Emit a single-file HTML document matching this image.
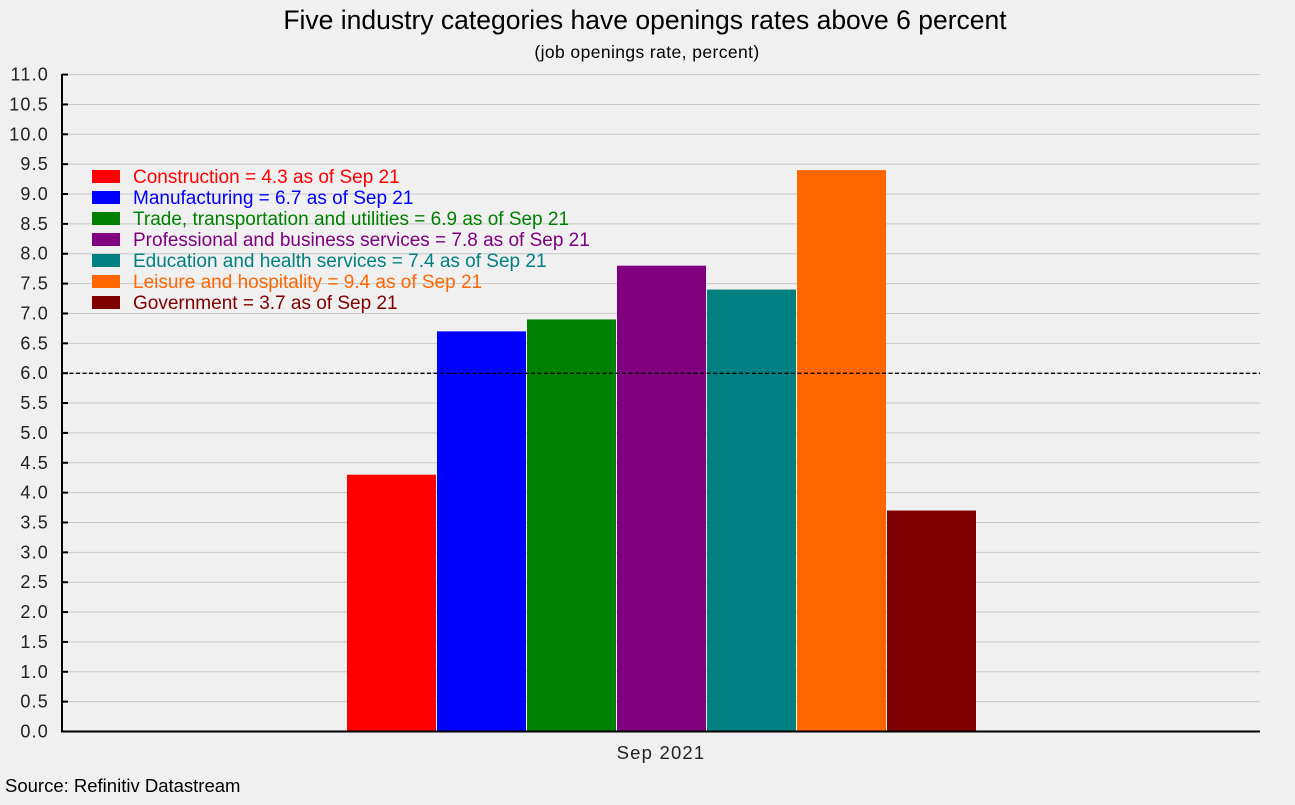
<!DOCTYPE html>
<html><head><style>body{margin:0;background:#f0f0f0}</style></head><body>
<svg width="1295" height="800" xmlns="http://www.w3.org/2000/svg" font-family="Liberation Sans, Arial, sans-serif">
<rect width="1295" height="800" fill="#f0f0f0"/>
<text x="645" y="29" font-size="26.5" text-anchor="middle" fill="#000">Five industry categories have openings rates above 6 percent</text>
<text x="647" y="58" font-size="17.5" text-anchor="middle" fill="#000" letter-spacing="0.4">(job openings rate, percent)</text>
<g id="grid" stroke="#c8c8c8" stroke-width="1"></g>
<g id="labels" font-size="18" fill="#222" text-anchor="end" letter-spacing="1.2"></g>
<g id="bars"></g>
<line x1="63" y1="373.3" x2="1260" y2="373.3" stroke="#000" stroke-width="1.3" stroke-dasharray="4,2.5"/>
<line x1="62" y1="74" x2="62" y2="732" stroke="#000" stroke-width="2"/>
<line x1="61" y1="731.5" x2="1260" y2="731.5" stroke="#000" stroke-width="2"/>
<g id="ticks" stroke="#000" stroke-width="2"></g>
<text x="661" y="759" font-size="18.5" text-anchor="middle" fill="#222" letter-spacing="1.2">Sep 2021</text>
<text x="5" y="792" font-size="18.5" fill="#000">Source: Refinitiv Datastream</text>
<g id="legend" font-size="19"></g>
<script>
var ns="http://www.w3.org/2000/svg";
function el(p,t,a,txt){var e=document.createElementNS(ns,t);for(var k in a)e.setAttribute(k,a[k]);if(txt)e.textContent=txt;document.getElementById(p).appendChild(e);}
function Y(v){return 731.5-v*59.72;}
for(var i=1;i<=22;i++){var v=i*0.5;el('grid','line',{x1:63,x2:1260,y1:Y(v),y2:Y(v)});}
for(var i=0;i<=22;i++){var v=i*0.5;el('labels','text',{x:49,y:Y(v)+6},v.toFixed(1));el('ticks','line',{x1:62,x2:68,y1:Y(v),y2:Y(v)});}
var d=[["#ff0000",4.3,"Construction = 4.3 as of Sep 21"],["#0000ff",6.7,"Manufacturing = 6.7 as of Sep 21"],["#008000",6.9,"Trade, transportation and utilities = 6.9 as of Sep 21"],["#800080",7.8,"Professional and business services = 7.8 as of Sep 21"],["#008080",7.4,"Education and health services = 7.4 as of Sep 21"],["#ff6600",9.4,"Leisure and hospitality = 9.4 as of Sep 21"],["#800000",3.7,"Government = 3.7 as of Sep 21"]];
d.forEach(function(b,i){var x=347+i*90;el('bars','rect',{x:x,y:Y(b[1]),width:89,height:731.5-Y(b[1]),fill:b[0]});
var ly=170+i*21;el('legend','rect',{x:92,y:ly,width:28,height:13,fill:b[0]});el('legend','text',{x:133,y:ly+13,fill:b[0]},b[2]);});
</script>
</svg>
</body></html>
